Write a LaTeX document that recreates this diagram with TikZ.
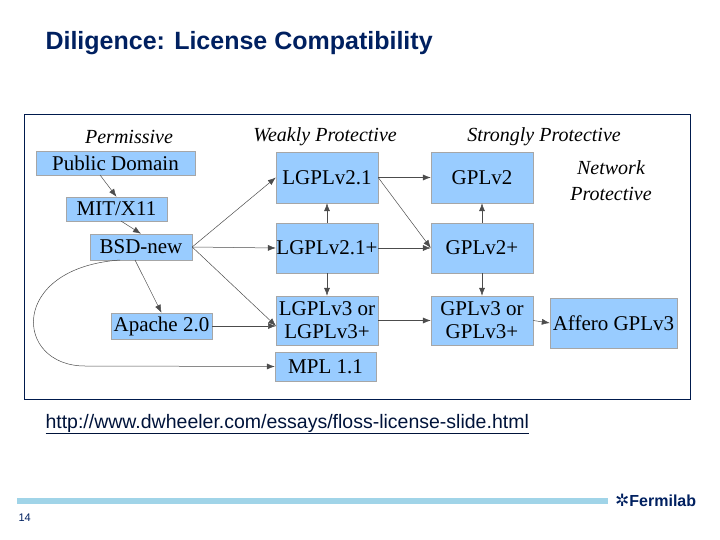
\documentclass[tikz,border=0pt]{standalone}
\usepackage{fontspec}
\setmainfont{Liberation Serif}
\newfontfamily\arial{Liberation Sans}
\usetikzlibrary{arrows.meta}
\definecolor{boxblue}{RGB}{153,204,255}
\definecolor{barblue}{RGB}{160,212,232}
\definecolor{titleblue}{RGB}{0,32,96}
\begin{document}
\begin{tikzpicture}[x=1pt,y=-1pt,
  lic/.style={draw=gray!70,fill=boxblue,inner sep=0pt,font=\fontsize{21}{23}\selectfont,align=center},
  hdr/.style={font=\fontsize{20}{24}\selectfont\itshape,align=center},
  arr/.style={-{Latex[length=8pt,width=6pt]},draw=black!70,line width=0.5pt}]
\useasboundingbox (0,0) rectangle (720,540);
\node[anchor=west,font=\arial\bfseries\fontsize{25}{28}\selectfont,text=titleblue] (title) at (42,43) {Diligence: License Compatibility};
\node[draw=titleblue!80!black,line width=0.8pt,minimum width=666pt,minimum height=285pt,anchor=north west] (frame) at (24,114) {};
\node[hdr] (hp) at (129,137) {Permissive};
\node[hdr] (hw) at (325,137) {Weakly Protective};
\node[hdr] (hs) at (544,137) {Strongly Protective};
\node[hdr,font=\fontsize{20}{26}\selectfont\itshape] (hn) at (611,181) {Network\\Protective};
\node[lic,minimum width=159pt,minimum height=24pt] (pd) at (115.5,163) {Public Domain};
\node[lic,minimum width=101pt,minimum height=24pt] (mit) at (116.5,209) {MIT/X11};
\node[lic,minimum width=102pt,minimum height=26pt] (bsd) at (141,247) {BSD-new};
\node[lic,minimum width=101pt,minimum height=26pt] (ap) at (161.5,326) {Apache 2.0};
\node[lic,minimum width=102pt,minimum height=51pt] (l21) at (327,177.5) {LGPLv2.1};
\node[lic,minimum width=102pt,minimum height=50pt] (l21p) at (327,248) {LGPLv2.1+};
\node[lic,minimum width=102pt,minimum height=49pt] (l3) at (327,320.5) {LGPLv3 or\\LGPLv3+};
\node[lic,minimum width=101pt,minimum height=29pt] (mpl) at (325.5,366.5) {MPL 1.1};
\node[lic,minimum width=102pt,minimum height=51pt] (g2) at (482,177.5) {GPLv2};
\node[lic,minimum width=102pt,minimum height=50pt] (g2p) at (482,248) {GPLv2+};
\node[lic,minimum width=102pt,minimum height=49pt] (g3) at (482,320.5) {GPLv3 or\\GPLv3+};
\node[lic,minimum width=127pt,minimum height=50pt] (af) at (613.5,323) {Affero GPLv3};
\coordinate (pdb) at (100,175);
\coordinate (mitb) at (121,221);
\coordinate (bsdb) at (135,260);
\coordinate (bsdl) at (120,260);
\coordinate (l3in) at (276,326);
\draw[arr] (pdb) -- (mit.north);
\draw[arr] (mitb) -- (bsd.north);
\draw[arr] (bsd.east) -- (l21.west);
\draw[arr] (bsd.east) -- (l21p.west);
\draw[arr] (bsd.east) -- (l3in);
\draw[arr] (bsdb) -- (ap.north);
\draw[arr] (ap.east) -- (l3in);
\draw[arr] (bsdl) .. controls (8,268) and (14,366) .. (85,366) -- (mpl.west);
\draw[arr] (l21p.north) -- (l21.south);
\draw[arr] (l21p.south) -- (l3.north);
\draw[arr] (l21.east) -- (g2.west);
\draw[arr] (l21.east) -- (g2p.west);
\draw[arr] (l21p.east) -- (g2p.west);
\draw[arr] (l3.east) -- (g3.west);
\draw[arr] (g2p.north) -- (g2.south);
\draw[arr] (g2p.south) -- (g3.north);
\draw[arr] (g3.east) -- (af.west);
\node[anchor=west,font=\arial\fontsize{19.5}{22}\selectfont,text=titleblue!60!black] (url) at (42,424) {\underline{http://www.dwheeler.com/essays/floss-license-slide.html}};
\node[fill=barblue,inner sep=0pt,minimum width=591pt,minimum height=6pt,anchor=west] (bar) at (17,501) {};
\node[anchor=west,text=titleblue,inner sep=0pt] (logo) at (615,500) {{\fontspec{DejaVu Sans}\bfseries\fontsize{17}{18}\selectfont ✲}{\arial\bfseries\fontsize{16}{18}\selectfont Fermilab}};
\node[anchor=west,font=\arial\fontsize{11}{12}\selectfont,text=titleblue] (pg) at (15,518) {14};
\end{tikzpicture}
\end{document}
